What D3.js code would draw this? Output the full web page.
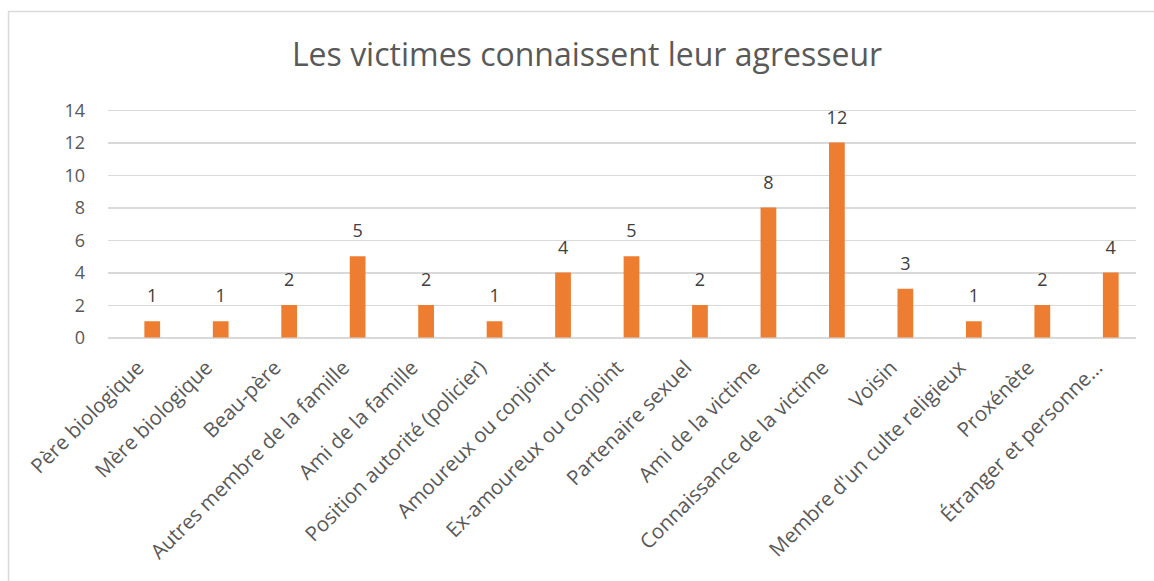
<!DOCTYPE html>
<html lang="fr">
<head>
<meta charset="utf-8">
<title>Les victimes connaissent leur agresseur</title>
<script src="https://cdn.jsdelivr.net/npm/d3@7"></script>
<style>
body { margin: 0; background: #fff; }
svg { display: block; }
svg text { font-family: "Open Sans", sans-serif; }
.grid line { stroke: #d9d9d9; stroke-width: 1.5px; shape-rendering: crispEdges; }
.grid path { display: none; }
.y text { fill: #595959; font-size: 18px; }
.x text { fill: #595959; font-size: 20.5px; }
.bar { fill: #ed7d31; }
.lbl { fill: #404040; font-size: 18px; text-anchor: middle; }
</style>
</head>
<body>
<svg width="1154" height="581"></svg>
<script>
var categories = ["Père biologique", "Mère biologique", "Beau-père", "Autres membre de la famille",
  "Ami de la famille", "Position autorité (policier)", "Amoureux ou conjoint", "Ex-amoureux ou conjoint",
  "Partenaire sexuel", "Ami de la victime", "Connaissance de la victime", "Voisin",
  "Membre d'un culte religieux", "Proxénète", "Étranger et personne…"];
var values = [1, 1, 2, 5, 2, 1, 4, 5, 2, 8, 12, 3, 1, 2, 4];
var yTicks = [0, 2, 4, 6, 8, 10, 12, 14];

var svg = d3.select("svg");

// chart frame
svg.append("rect")
  .attr("x", 8.5).attr("y", 11.5)
  .attr("width", 1200).attr("height", 700)
  .attr("fill", "none").attr("stroke", "#d9d9d9").attr("stroke-width", 1.5);

svg.append("text")
  .attr("x", 587).attr("y", 66)
  .attr("text-anchor", "middle")
  .attr("fill", "#595959")
  .style("font-size", "32px")
  .text("Les victimes connaissent leur agresseur");

var gridLeft = 108, gridRight = 1136;
var x = d3.scaleBand().domain(categories).range([118, 1145]).paddingInner(0.77).paddingOuter(0.385);
var y = d3.scaleLinear().domain([0, 14]).range([337.5, 110]);

svg.append("g")
  .attr("class", "grid y")
  .attr("transform", "translate(" + gridLeft + ",0)")
  .call(d3.axisLeft(y).tickValues(yTicks).tickSize(-(gridRight - gridLeft)).tickPadding(23))
  .selectAll("text").attr("dy", "0.35em");

svg.selectAll(".bar")
  .data(values)
  .enter().append("rect")
  .attr("class", "bar")
  .attr("x", function(d, i) { return x(categories[i]); })
  .attr("y", function(d) { return y(d); })
  .attr("width", x.bandwidth())
  .attr("height", function(d) { return y(0) - y(d); });

svg.selectAll(".lbl")
  .data(values)
  .enter().append("text")
  .attr("class", "lbl")
  .attr("x", function(d, i) { return x(categories[i]) + x.bandwidth() / 2; })
  .attr("y", function(d) { return y(d) - 19; })
  .text(function(d) { return d; });

var xa = svg.append("g")
  .attr("class", "x")
  .call(d3.axisBottom(x).tickSize(0));
xa.select("path").remove();
xa.selectAll("text")
  .attr("text-anchor", "end")
  .attr("dy", null)
  .attr("y", 0)
  .attr("transform", "translate(-7,369) rotate(-45)");
</script>
</body>
</html>
